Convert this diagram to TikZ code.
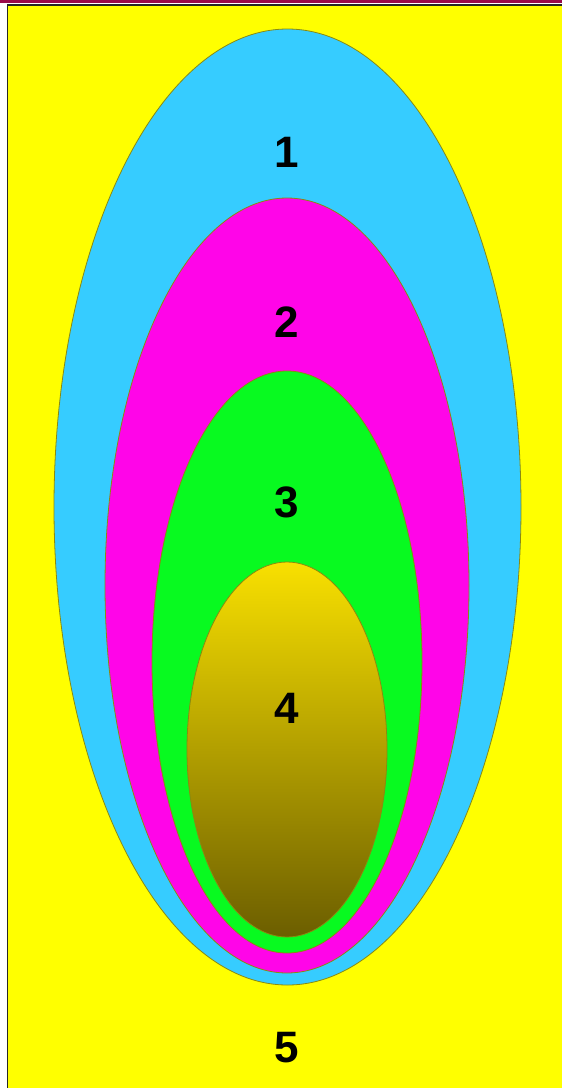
\documentclass[tikz,border=0pt]{standalone}
\usepackage{fontspec}
\setmainfont{Liberation Sans}
\usetikzlibrary{shapes.geometric}
\definecolor{bgyellow}{HTML}{FFFF00}
\definecolor{topband}{HTML}{9A0A4A}
\definecolor{ring}{HTML}{8A8A10}
\definecolor{cyanfill}{HTML}{36CCFF}
\definecolor{magfill}{HTML}{FF05E8}
\definecolor{greenfill}{HTML}{08FA20}
\definecolor{goldtop}{HTML}{F8E000}
\definecolor{goldbot}{HTML}{6C5E00}
\tikzset{
  zone/.style={ellipse, draw=ring, line width=0.8pt, inner sep=0pt},
  lbl/.style={font=\fontsize{44}{50}\selectfont\bfseries, text=black, inner sep=0pt}
}
\begin{document}
\begin{tikzpicture}[x=1pt,y=-1pt]
\useasboundingbox (0,0) rectangle (562,1088);
\fill[white] (0,0) rectangle (562,1088);
\fill[topband] (0,0) rectangle (562,3.2);
\filldraw[fill=bgyellow, draw=black!85, line width=1.5pt] (7.5,4.8) rectangle (575,1100);
\node[zone, fill=cyanfill, minimum width=467pt, minimum height=956pt] (e1) at (287.5,507) {};
\node[zone, fill=magfill, minimum width=364pt, minimum height=775pt] (e2) at (287,585.5) {};
\node[zone, fill=greenfill, minimum width=270pt, minimum height=582pt] (e3) at (287,662) {};
\node[zone, top color=goldtop, bottom color=goldbot, minimum width=200pt, minimum height=375pt] (e4) at (287,749.5) {};
\node[lbl] (l1) at (287,152) {1};
\node[lbl] (l2) at (287,322) {2};
\node[lbl] (l3) at (287,502) {3};
\node[lbl] (l4) at (287,708) {4};
\node[lbl] (l5) at (287,1048) {5};
\end{tikzpicture}
\end{document}
